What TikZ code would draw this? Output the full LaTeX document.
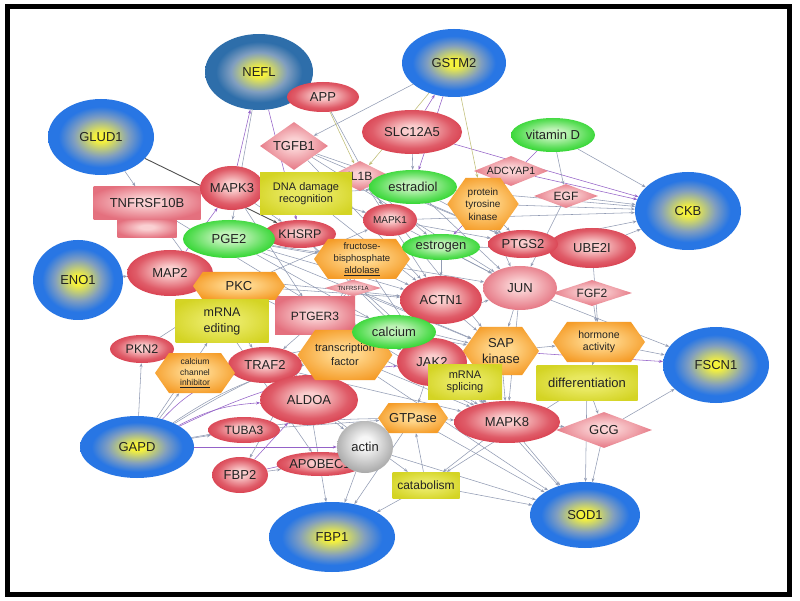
\documentclass[tikz,border=0pt]{standalone}
\usepackage{fontspec}
\setmainfont{Liberation Sans}
\setsansfont{Liberation Sans}
\usetikzlibrary{arrows.meta,shapes.geometric,shapes.symbols,backgrounds}

\definecolor{seedrim}{RGB}{40,118,228}
\definecolor{seedteal}{RGB}{46,110,170}
\definecolor{seedmid}{RGB}{128,158,192}
\definecolor{seedcore}{RGB}{246,242,60}
\definecolor{redrim}{RGB}{216,60,76}
\definecolor{redcore}{RGB}{250,205,205}
\definecolor{pinkrim}{RGB}{228,112,126}
\definecolor{pinkcore}{RGB}{250,208,210}
\definecolor{greenrim}{RGB}{40,212,40}
\definecolor{greencore}{RGB}{190,242,182}
\definecolor{orangerim}{RGB}{245,156,40}
\definecolor{orangecore}{RGB}{255,214,138}
\definecolor{boxrim}{RGB}{212,212,36}
\definecolor{boxcore}{RGB}{232,232,96}
\definecolor{grayrim}{RGB}{158,158,158}
\definecolor{graycore}{RGB}{246,246,246}
\definecolor{edgegray}{RGB}{146,156,180}
\definecolor{edgepurple}{RGB}{148,98,200}
\definecolor{edgeolive}{RGB}{192,190,118}
\definecolor{edgedark}{RGB}{80,80,80}
\definecolor{labeltext}{RGB}{35,35,35}

\pgfdeclareradialshading{seedglow}{\pgfpoint{0bp}{0bp}}{color(0bp)=(seedcore); color(3bp)=(seedcore); color(13bp)=(seedmid); color(20bp)=(seedrim); color(25bp)=(seedrim); color(50bp)=(seedrim)}
\pgfdeclareradialshading{tealglow}{\pgfpoint{0bp}{0bp}}{color(0bp)=(seedcore); color(3bp)=(seedcore); color(13bp)=(seedmid); color(20bp)=(seedteal); color(25bp)=(seedteal); color(50bp)=(seedteal)}
\pgfdeclareradialshading{redglow}{\pgfpoint{0bp}{3bp}}{color(0bp)=(redcore); color(5bp)=(redcore); color(20bp)=(redrim!78!redcore); color(28bp)=(redrim); color(50bp)=(redrim)}
\pgfdeclareradialshading{pinkglow}{\pgfpoint{0bp}{3bp}}{color(0bp)=(pinkcore); color(6bp)=(pinkcore); color(28bp)=(pinkrim); color(50bp)=(pinkrim)}
\pgfdeclareradialshading{greenglow}{\pgfpoint{0bp}{3bp}}{color(0bp)=(greencore); color(7bp)=(greencore); color(20bp)=(greenrim!65!greencore); color(28bp)=(greenrim); color(50bp)=(greenrim)}
\pgfdeclareradialshading{orangeglow}{\pgfpoint{0bp}{2bp}}{color(0bp)=(orangecore); color(7bp)=(orangecore); color(28bp)=(orangerim); color(50bp)=(orangerim)}
\pgfdeclareradialshading{boxglow}{\pgfpoint{0bp}{0bp}}{color(0bp)=(boxcore); color(10bp)=(boxcore); color(30bp)=(boxrim); color(50bp)=(boxrim)}
\pgfdeclareradialshading{grayglow}{\pgfpoint{0bp}{5bp}}{color(0bp)=(graycore); color(6bp)=(graycore); color(30bp)=(grayrim); color(50bp)=(grayrim)}

\begin{document}
\begin{tikzpicture}[x=1pt,y=-1pt]
	\tikzstyle{every node}=[inner sep=0pt, align=center, text=labeltext, font=\fontsize{13}{14}\selectfont]
	\tikzstyle{seed}=[ellipse, shading=seedglow]
	\tikzstyle{prot}=[ellipse, shading=redglow]
	\tikzstyle{pale}=[ellipse, shading=pinkglow]
	\tikzstyle{lig}=[diamond, shape aspect=2.5, shading=pinkglow]
	\tikzstyle{rcpt}=[rectangle, shading=pinkglow]
	\tikzstyle{chem}=[ellipse, shading=greenglow]
	\tikzstyle{func}=[signal, signal to=east and west, signal pointer angle=110, shading=orangeglow]
	\tikzstyle{proc}=[rectangle, shading=boxglow, font=\fontsize{11}{12}\selectfont]
	\tikzstyle{cplx}=[ellipse, shading=grayglow]
	\tikzstyle{link}=[draw=edgegray, line width=0.55pt, -{Stealth[length=4pt,width=3pt]}]
	\tikzstyle{plink}=[link, draw=edgepurple]
	\tikzstyle{olink}=[link, draw=edgeolive]
	\tikzstyle{dlink}=[link, draw=edgedark, line width=0.9pt]
	\tikzset{sz/.style 2 args={minimum width=#1pt, minimum height=#2pt}}
	\useasboundingbox (0,0) rectangle (800,601);
	% query genes
	\draw (259,72) node (NEFL) [seed,shading=tealglow,sz={108}{76}] {NEFL};
	\draw (101,137) node (GLUD1) [seed,sz={106}{76}] {GLUD1};
	\draw (454,63) node (GSTM2) [seed,sz={104}{68}] {GSTM2};
	\draw (688,211) node (CKB) [seed,sz={106}{78}] {CKB};
	\draw (78,280) node (ENO1) [seed,sz={90}{80}] {ENO1};
	\draw (716,365) node (FSCN1) [seed,sz={106}{76}] {FSCN1};
	\draw (137,447) node (GAPD) [seed,sz={114}{62}] {GAPD};
	\draw (332,537) node (FBP1) [seed,sz={126}{70}] {FBP1};
	\draw (585,515) node (SOD1) [seed,sz={110}{66}] {SOD1};
	% ligands, receptors
	\draw (294,146) node (TGFB1) [lig,sz={68}{48}] {TGFB1};
	\draw (360,176) node (IL1B) [lig,sz={60}{30},font=\fontsize{12}{13}\selectfont] {IL1B};
	\draw (511,171) node (ADCYAP1) [lig,sz={74}{30},font=\fontsize{10.5}{11}\selectfont] {ADCYAP1};
	\draw (566,196) node (EGF) [lig,sz={64}{24},font=\fontsize{12}{13}\selectfont] {EGF};
	\draw (592,293) node (FGF2) [lig,sz={80}{26},font=\fontsize{12}{13}\selectfont] {FGF2};
	\draw (604,430) node (GCG) [lig,sz={96}{36}] {GCG};
	\draw (353,288) node (TNFRSF1A) [lig,sz={56}{16},font=\fontsize{6}{7}\selectfont] {TNFRSF1A};
	\draw (147,228) node (TNFstem) [rcpt,sz={59}{19}] {};
	\draw (147,203) node (TNFRSF10B) [rcpt,sz={107}{33}] {TNFRSF10B};
	\draw (315,316) node (PTGER3) [rcpt,sz={80}{38},font=\fontsize{12}{13}\selectfont] {PTGER3};
	% molecules
	\draw (323,97) node (APP) [prot,sz={72}{30}] {APP};
	\draw (412,132) node (SLC12A5) [prot,sz={100}{44}] {SLC12A5};
	\draw (232,188) node (MAPK3) [prot,sz={64}{44}] {MAPK3};
	\draw (300,234) node (KHSRP) [prot,sz={72}{28},font=\fontsize{12.5}{13}\selectfont] {KHSRP};
	\draw (390,220) node (MAPK1) [prot,sz={54}{32},font=\fontsize{10}{11}\selectfont] {MAPK1};
	\draw (170,273) node (MAP2) [prot,sz={86}{46}] {MAP2};
	\draw (592,248) node (UBE2I) [prot,sz={88}{40}] {UBE2I};
	\draw (523,244) node (PTGS2) [prot,sz={70}{28}] {PTGS2};
	\draw (441,300) node (ACTN1) [prot,sz={82}{48}] {ACTN1};
	\draw (432,362) node (JAK2) [prot,sz={70}{48}] {JAK2};
	\draw (265,365) node (TRAF2) [prot,sz={74}{36}] {TRAF2};
	\draw (309,400) node (ALDOA) [prot,sz={98}{50}] {ALDOA};
	\draw (244,430) node (TUBA3) [prot,sz={72}{26},font=\fontsize{12}{13}\selectfont] {TUBA3};
	\draw (240,475) node (FBP2) [prot,sz={56}{36}] {FBP2};
	\draw (320,464) node (APOBEC1) [prot,sz={74}{24}] {APOBEC1};
	\draw (142,349) node (PKN2) [prot,sz={64}{28},font=\fontsize{12.5}{13}\selectfont] {PKN2};
	\draw (507,422) node (MAPK8) [prot,sz={106}{42}] {MAPK8};
	\draw (520,288) node (JUN) [pale,sz={74}{44}] {JUN};
	\draw (413,187) node (estradiol) [chem,sz={88}{34}] {estradiol};
	\draw (553,135) node (vitaminD) [chem,sz={84}{34}] {vitamin D};
	\draw (229,239) node (PGE2) [chem,sz={92}{38}] {PGE2};
	% functions
	\draw (483,204) node (ptk) [func,sz={70}{52},font=\fontsize{10}{12.5}\selectfont] {protein\\tyrosine\\kinase};
	\draw (362,259) node (fba) [func,sz={96}{40},font=\fontsize{9.5}{12}\selectfont] {fructose-\\bisphosphate\\\underline{aldolase}};
	\draw (239,286) node (PKC) [func,sz={92}{28}] {PKC};
	\draw (345,355) node (tf) [func,sz={86}{50},font=\fontsize{11}{14}\selectfont] {transcription\\factor};
	\draw (195,373) node (cci) [func,sz={80}{40},font=\fontsize{8.5}{10.5}\selectfont] {calcium\\channel\\\underline{inhibitor}};
	\draw (501,351) node (SAP) [func,sz={76}{48},font=\fontsize{13}{16}\selectfont] {SAP\\kinase};
	\draw (599,342) node (hormone) [func,sz={92}{40},font=\fontsize{10.5}{12}\selectfont] {hormone\\activity};
	\draw (413,418) node (GTPase) [func,sz={70}{30}] {GTPase};
	\draw (441,247) node (estrogen) [chem,sz={78}{26}] {estrogen};
	\draw (394,332) node (calcium) [chem,sz={84}{34}] {calcium};
	% processes
	\draw (306,194) node (dna) [proc,sz={92}{42}] {DNA damage\\recognition};
	\draw (222,321) node (mRNAedit) [proc,sz={93}{43},font=\fontsize{12.5}{16}\selectfont] {mRNA\\editing};
	\draw (465,382) node (mRNAsplice) [proc,sz={74}{35}] {mRNA\\splicing};
	\draw (587,383) node (diff) [proc,sz={101}{35},font=\fontsize{13}{14}\selectfont] {differentiation};
	\draw (426,485) node (catab) [proc,sz={67}{26},font=\fontsize{12}{13}\selectfont] {catabolism};
	\draw (365,447) node (actin) [cplx,sz={56}{52}] {actin};
	\begin{pgfonlayer}{background}
	\fill[white] (0,0) rectangle (800,601);
	% into query genes
	\draw[plink] (SLC12A5) -- (CKB);
	\draw[link] (vitaminD) -- (CKB);
	\draw[link] (estradiol) -- (CKB);
	\draw[plink] (ADCYAP1) -- (CKB);
	\draw[link] (ptk) -- (CKB);
	\draw[link] (EGF) -- (CKB);
	\draw[link] (UBE2I) -- (CKB);
	\draw[link] (PTGS2) -- (CKB);
	\draw[link] (MAPK1) -- (CKB);
	\draw[plink] (MAPK3) -- (NEFL);
	\draw[plink] (NEFL) -- (KHSRP);
	\draw[plink] (MAP2) -- (MAPK3);
	\draw[link] (NEFL) -- (PGE2);
	\draw[olink] (GSTM2) -- (IL1B);
	\draw[plink] (GSTM2) -- (estradiol);
	\draw[olink] (GSTM2) -- (ptk);
	\draw[link] (GSTM2) -- (TGFB1);
	\draw[plink] (SLC12A5) -- (GSTM2);
	\draw[olink] (APP) -- (IL1B);
	\draw[dlink] (GLUD1) -- (KHSRP);
	\draw[link] (GLUD1) -- (TNFRSF10B);
	\draw[link] (hormone) -- (FSCN1);
	\draw[link] (JUN) -- (FSCN1);
	\draw[link] (GCG) -- (FSCN1);
	\draw[plink] (SAP) -- (FSCN1);
	\draw[link] (catab) -- (SOD1);
	\draw[link] (MAPK8) -- (SOD1);
	\draw[link] (GCG) -- (SOD1);
	\draw[link] (diff) -- (SOD1);
	\draw[link] (GTPase) -- (SOD1);
	\draw[link] (actin) -- (SOD1);
	\draw[link] (mRNAsplice) -- (SOD1);
	\draw[link] (tf) -- (SOD1);
	\draw[link] (ALDOA) -- (FBP1);
	\draw[link] (catab) -- (FBP1);
	\draw[link] (actin) -- (FBP1);
	\draw[link] (GTPase) -- (FBP1);
	\draw[plink] (GAPD) -- (actin);
	\draw[plink] (GAPD) to[bend left=12] (ALDOA);
	\draw[plink] (GAPD) to[bend left=15] (TRAF2);
	\draw[link] (GAPD) to[bend left=10] (tf);
	\draw[link] (GAPD) to[bend left=8] (calcium);
	\draw[plink] (GAPD) to[bend left=10] (JAK2);
	\draw[link] (GAPD) to[bend left=6] (MAPK8);
	\draw[link] (GAPD) -- (cci);
	\draw[link] (GAPD) -- (PKN2);
	\draw[link] (GAPD) -- (mRNAedit);
	\draw[link] (GAPD) -- (TUBA3);
	\draw[link] (ENO1) -- (MAP2);
	% among the others
	\draw[link] (PGE2) -- (ACTN1);
	\draw[link] (PGE2) -- (JUN);
	\draw[link] (PGE2) -- (calcium);
	\draw[link] (PGE2) -- (fba);
	\draw[link] (PGE2) -- (SAP);
	\draw[link] (KHSRP) -- (ACTN1);
	\draw[link] (KHSRP) -- (JAK2);
	\draw[link] (KHSRP) -- (MAPK8);
	\draw[link] (dna) -- (estradiol);
	\draw[link] (dna) -- (MAPK1);
	\draw[link] (dna) -- (ACTN1);
	\draw[link] (TGFB1) -- (estradiol);
	\draw[link] (TGFB1) -- (JUN);
	\draw[link] (TGFB1) -- (PTGS2);
	\draw[link] (TGFB1) -- (ACTN1);
	\draw[link] (IL1B) -- (PTGS2);
	\draw[link] (IL1B) -- (estrogen);
	\draw[link] (IL1B) -- (ACTN1);
	\draw[link] (IL1B) -- (SAP);
	\draw[link] (MAPK1) -- (JUN);
	\draw[link] (MAPK1) -- (PTGS2);
	\draw[link] (estradiol) -- (JUN);
	\draw[link] (estradiol) -- (PTGS2);
	\draw[link] (estrogen) -- (JUN);
	\draw[link] (estrogen) -- (ACTN1);
	\draw[link] (estrogen) -- (UBE2I);
	\draw[plink] (vitaminD) -- (estrogen);
	\draw[link] (vitaminD) -- (EGF);
	\draw[link] (EGF) -- (JUN);
	\draw[link] (ADCYAP1) -- (ptk);
	\draw[link] (ptk) -- (PTGS2);
	\draw[link] (ptk) -- (JUN);
	\draw[link] (fba) -- (ALDOA);
	\draw[link] (fba) -- (FBP2);
	\draw[link] (fba) -- (JAK2);
	\draw[link] (PKC) -- (MAPK1);
	\draw[link] (PKC) -- (JAK2);
	\draw[link] (PKC) -- (ACTN1);
	\draw[link] (PKC) -- (SAP);
	\draw[link] (PKC) -- (MAPK8);
	\draw[link] (calcium) -- (SAP);
	\draw[link] (calcium) -- (ACTN1);
	\draw[link] (calcium) -- (MAPK8);
	\draw[link] (tf) -- (JUN);
	\draw[link] (tf) -- (MAPK8);
	\draw[link] (JAK2) -- (SAP);
	\draw[link] (ACTN1) -- (SAP);
	\draw[link] (SAP) -- (MAPK8);
	\draw[link] (SAP) -- (hormone);
	\draw[link] (hormone) -- (diff);
	\draw[link] (JUN) -- (SAP);
	\draw[link] (JUN) -- (MAPK8);
	\draw[link] (FGF2) -- (hormone);
	\draw[link] (UBE2I) -- (hormone);
	\draw[link] (mRNAsplice) -- (MAPK8);
	\draw[link] (GTPase) -- (actin);
	\draw[link] (ALDOA) -- (actin);
	\draw[link] (TRAF2) -- (MAPK8);
	\draw[link] (TRAF2) -- (tf);
	\draw[link] (PTGER3) -- (calcium);
	\draw[link] (PTGER3) -- (JAK2);
	\draw[link] (MAPK3) -- (PTGER3);
	\draw[link] (MAPK3) -- (KHSRP);
	\draw[link] (TNFRSF10B) -- (TRAF2);
	\draw[link] (TNFRSF10B) -- (MAPK8);
	\draw[link] (TNFRSF1A) -- (TRAF2);
	\draw[link] (TNFRSF1A) -- (SAP);
	\draw[link] (MAP2) -- (ACTN1);
	\draw[link] (mRNAedit) -- (APOBEC1);
	\draw[plink] (FBP2) -- (ALDOA);
	\draw[plink] (FBP2) -- (actin);
	\draw[link] (FBP2) -- (APOBEC1);
	\draw[link] (TUBA3) -- (GTPase);
	\draw[link] (MAPK8) -- (GCG);
	\draw[link] (diff) -- (GCG);
	\draw[link] (JAK2) -- (GTPase);
	\draw[link] (catab) -- (GTPase);
	\draw[link] (ALDOA) -- (catab);
	\draw[link] (MAPK8) -- (catab);
	\draw[link] (diff) -- (catab);
	\draw[link] (cci) -- (calcium);
	\draw[link] (PKN2) -- (PKC);
	\draw[link] (SLC12A5) -- (estradiol);
	\draw[link] (APP) -- (MAPK1);
	\end{pgfonlayer}
	\draw[line width=5pt] (7.5,6.5) rectangle (789,594);
\end{tikzpicture}
\end{document}
